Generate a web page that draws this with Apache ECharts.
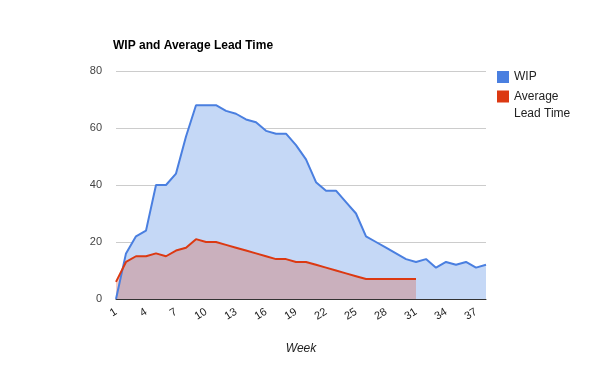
<!DOCTYPE html>
<html><head><meta charset="utf-8">
<script src="https://cdn.jsdelivr.net/npm/echarts@6/dist/echarts.min.js"></script>
<style>html,body{margin:0;padding:0;background:#fff}#c{width:600px;height:371px}</style>
</head><body><div id="c"></div>
<script>
const weeks = ["1","2","3","4","5","6","7","8","9","10","11","12","13","14","15","16","17","18","19","20","21","22","23","24","25","26","27","28","29","30","31","32","33","34","35","36","37","38"];
const wip = [0,16,22,24,40,40,44,57,68,68,68,66,65,63,62,59,58,58,54,49,41,38,38,34,30,22,20,18,16,14,13,14,11,13,12,13,11,12];
const leadTime = [6,13,15,15,16,15,17,18,21,20,20,19,18,17,16,15,14,14,13,13,12,11,10,9,8,7,7,7,7,7,7];
const yTicks = [0,20,40,60,80];

const font = 'Liberation Sans, Arial, sans-serif';
const chart = echarts.init(document.getElementById('c'));
const legendBase = {orient: 'vertical', padding: 0, itemWidth: 12, itemHeight: 12, icon: 'rect', itemGap: 0};
chart.setOption({
  animation: false,
  textStyle: {fontFamily: font},
  title: {text: 'WIP and Average Lead Time', left: 113, top: 40, padding: 0,
    textStyle: {fontSize: 12, fontWeight: 'bold', color: '#000', fontFamily: font}},
  legend: [
    Object.assign({}, legendBase, {left: 497, top: 69,
      textStyle: {fontSize: 12, color: '#222', lineHeight: 16},
      data: ['WIP']}),
    Object.assign({}, legendBase, {left: 497, top: 71,
      formatter: function(n){ return ' \nAverage\nLead Time'; },
      textStyle: {fontSize: 12, color: '#222', lineHeight: 17},
      data: ['Average Lead Time']})
  ],
  grid: {left: 116, right: 114, top: 71, bottom: 72},
  xAxis: {type: 'category', data: weeks, boundaryGap: false,
    name: 'Week', nameLocation: 'middle', nameGap: 44,
    nameTextStyle: {fontStyle: 'italic', fontSize: 12, color: '#222'},
    axisLine: {lineStyle: {color: '#333', width: 1}},
    axisTick: {show: false},
    axisLabel: {interval: 2, rotate: 32, color: '#222', fontSize: 11, margin: 12}},
  yAxis: {type: 'value', min: yTicks[0], max: yTicks[yTicks.length-1], interval: 20,
    axisLine: {show: false}, axisTick: {show: false},
    axisLabel: {color: '#444', fontSize: 11, margin: 14},
    splitLine: {lineStyle: {color: '#ccc'}}},
  series: [
    {name: 'WIP', type: 'line', data: wip, symbol: 'none', smooth: false,
      itemStyle: {color: '#4a7fe0'},
      lineStyle: {width: 2, color: '#4a7fe0'},
      areaStyle: {color: '#c5d8f6', opacity: 1}},
    {name: 'Average Lead Time', type: 'line', data: leadTime, symbol: 'none',
      itemStyle: {color: '#dc3912'},
      lineStyle: {width: 2, color: '#dc3912'},
      areaStyle: {color: '#dc3912', opacity: 0.25}}
  ]
});
</script></body></html>
